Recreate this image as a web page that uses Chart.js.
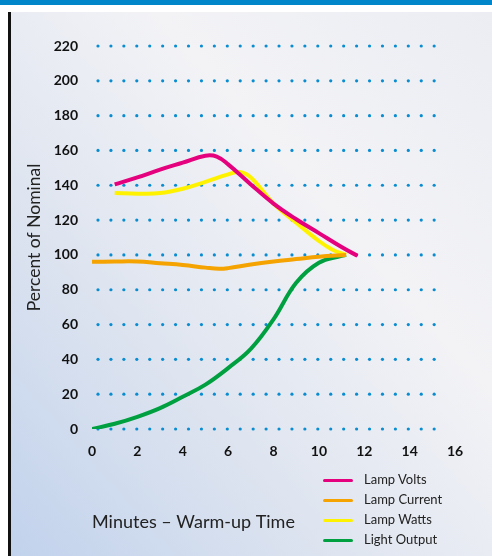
<!DOCTYPE html>
<html>
<head>
<meta charset="utf-8">
<script src="https://cdn.jsdelivr.net/npm/chart.js@4.4.1/dist/chart.umd.min.js"></script>
<style>
  html, body { margin: 0; padding: 0; background: #fff; }
  #wrap { position: relative; width: 492px; height: 556px; overflow: hidden; }
  #topbar { position: absolute; left: 0; top: 0; width: 492px; height: 5px; background: #0086c9; }
  #panel {
    position: absolute; left: 8px; top: 12px; width: 484px; height: 544px;
    border-left: 3px solid #111;
    background: linear-gradient(to top right, #c1d2ec 0%, #dfe5f0 35%, #f3f3f6 65%, #ebedf3 100%);
  }
  #chart { position: absolute; left: 0; top: 0; }
  #legend { position: absolute; left: 323px; top: 470px; font-family: Lato, sans-serif; font-size: 13px; color: #222; }
  #legend div { height: 20px; line-height: 18px; white-space: nowrap; }
  #legend span { display: inline-block; width: 30px; height: 3px; border-radius: 2px; vertical-align: middle; margin-right: 11px; }
</style>
</head>
<body>
<div id="wrap">
  <div id="topbar"></div>
  <div id="panel"></div>
  <canvas id="chart" width="492" height="556"></canvas>
  <div id="legend"></div>
</div>
<script>
// minutes and percent-of-nominal values
const voltsX = [1, 2, 3, 4, 5, 5.5, 6, 7, 8, 9, 10, 11, 11.7];
const voltsY = [140.5, 144.5, 149, 153, 157, 156.5, 152, 140.5, 129.5, 120.5, 112.5, 104.5, 99.5];

const currentX = [0, 1, 2, 3, 4, 5, 5.6, 6, 7, 8, 9, 10, 11.2];
const currentY = [96, 96.2, 96.2, 95.2, 94.2, 92.7, 92, 92.4, 94.5, 96.2, 97.6, 99, 100];

const wattsX = [1, 2, 3, 4, 5, 6, 6.5, 7, 8, 9, 10, 10.6, 11.2];
const wattsY = [135.5, 135.2, 135.5, 138, 142, 146.3, 147.6, 144.5, 129.5, 118.5, 108, 103, 100];

const lightX = [0, 1, 2, 3, 4, 5, 6, 7, 8, 9, 10, 11, 11.2];
const lightY = [0, 3, 7, 12, 18.5, 25.5, 35, 46, 63, 84, 95.5, 99.5, 100];

const seriesNames = ["Lamp Volts", "Lamp Current", "Lamp Watts", "Light Output"];
const seriesColors = ["#e5007d", "#f5a300", "#fff200", "#00a040"];

const xTicks = { min: 0, max: 16, step: 2 };
const yTicks = { min: 0, max: 220, step: 20 };

function toPoints(xs, ys) {
    return xs.map((x, i) => ({ x: x, y: ys[i] }));
}

const allSeries = [
    toPoints(voltsX, voltsY),
    toPoints(currentX, currentY),
    toPoints(wattsX, wattsY),
    toPoints(lightX, lightY),
];

// dotted horizontal grid, drawn as round dots on each y tick
const dotGrid = {
    id: "dotGrid",
    beforeDatasetsDraw(chart) {
        const ctx = chart.ctx;
        const xs = chart.scales.x;
        const ys = chart.scales.y;
        const start = xs.getPixelForValue(0) + 6;
        const end = xs.getPixelForValue(15.1);
        ctx.save();
        ctx.fillStyle = "#0a8cd0";
        ys.ticks.forEach(t => {
            const py = ys.getPixelForValue(t.value);
            for (let px = start; px <= end + 0.5; px += 12.93) {
                ctx.beginPath();
                ctx.arc(px, py, 1.6, 0, Math.PI * 2);
                ctx.fill();
            }
        });
        ctx.restore();
    }
};

const tickFont = { family: "Lato", weight: "bold", size: 14 };

const config = {
    type: "line",
    data: {
        datasets: allSeries.map((pts, i) => ({
            label: seriesNames[i],
            data: pts,
            borderColor: seriesColors[i],
            backgroundColor: seriesColors[i],
            borderWidth: 4,
            pointRadius: 0,
            fill: false,
            tension: 0.4,
        })),
    },
    options: {
        responsive: false,
        animation: false,
        layout: { padding: { left: 10, right: 37, top: 46, bottom: 23 } },
        plugins: {
            legend: { display: false },
            tooltip: { enabled: false },
        },
        scales: {
            x: {
                type: "linear",
                min: xTicks.min,
                max: xTicks.max,
                grid: { display: false },
                border: { display: false },
                ticks: { stepSize: xTicks.step, color: "#111", font: tickFont, padding: 6 },
                title: {
                    display: true,
                    text: "Minutes – Warm-up Time",
                    align: "start",
                    color: "#222",
                    font: { family: "Lato", size: 18 },
                    padding: { top: 0, bottom: 0 },
                },
                afterFit(scale) { scale.height = 104; },
            },
            y: {
                min: yTicks.min,
                max: yTicks.max,
                grid: { display: false },
                border: { display: false },
                ticks: { stepSize: yTicks.step, color: "#111", font: tickFont, padding: 6 },
                title: {
                    display: true,
                    text: "Percent of Nominal",
                    color: "#222",
                    font: { family: "Lato", size: 17.5 },
                    padding: { top: 14, bottom: 0 },
                },
                afterFit(scale) { scale.width = 82; },
            },
        },
    },
    plugins: [dotGrid],
};

const ctx = document.getElementById("chart").getContext("2d");
const lampChart = new Chart(ctx, config);

// legend in a column under the plot, taken from the datasets
const legendBox = document.getElementById("legend");
lampChart.data.datasets.forEach(ds => {
    const row = document.createElement("div");
    const swatch = document.createElement("span");
    swatch.style.background = ds.borderColor;
    row.appendChild(swatch);
    row.appendChild(document.createTextNode(ds.label));
    legendBox.appendChild(row);
});
</script>
</body>
</html>
